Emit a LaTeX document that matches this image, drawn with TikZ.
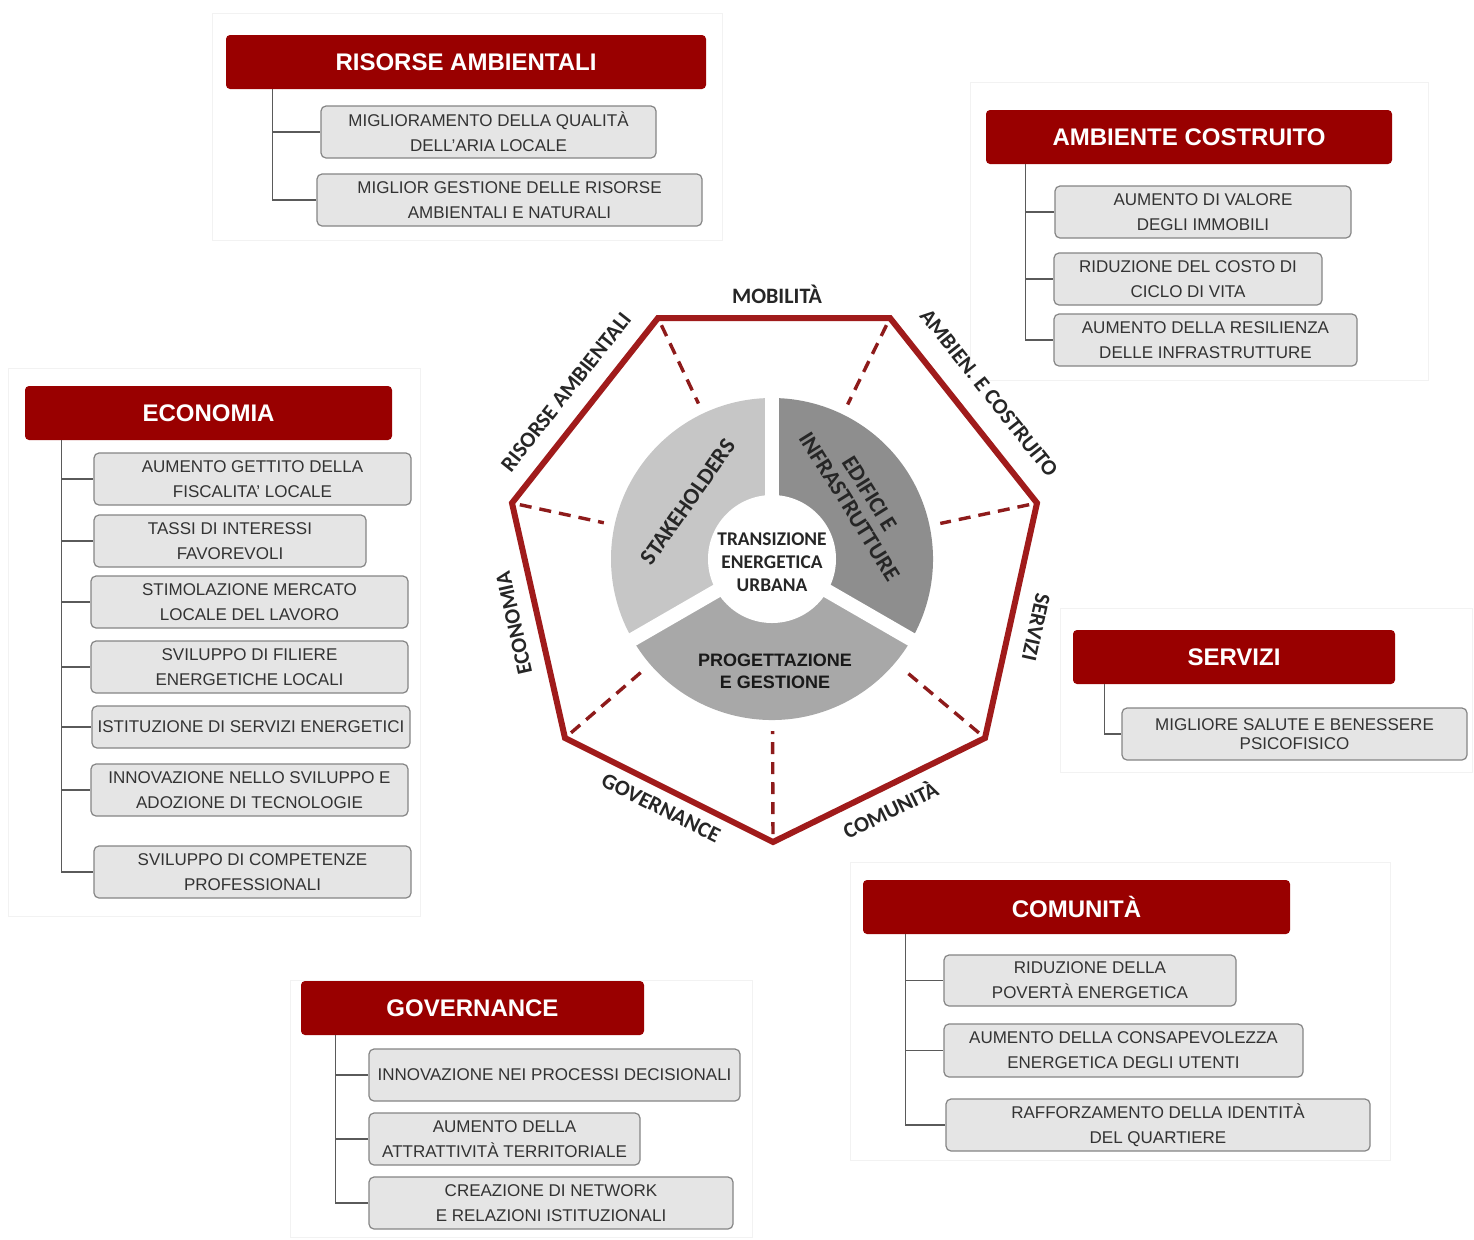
\documentclass[tikz,border=0pt]{standalone}
\usepackage{fontspec}
\setmainfont{Liberation Sans}
\newfontfamily\calib{Carlito}
\usetikzlibrary{calc}
\definecolor{tred}{HTML}{990000}
\definecolor{hred}{HTML}{A01B1B}
\definecolor{dred}{HTML}{8E1B1B}
\definecolor{boxfill}{HTML}{E5E5E5}
\definecolor{boxline}{HTML}{858585}
\definecolor{itxt}{HTML}{333333}
\definecolor{connc}{HTML}{5A5A5A}
\definecolor{stkc}{HTML}{C6C6C6}
\definecolor{edic}{HTML}{8E8E8E}
\definecolor{proc}{HTML}{A8A8A8}
\tikzset{
 title/.style={fill=tred, rounded corners=2pt, text=white, font=\bfseries\fontsize{12}{14}\selectfont, inner sep=0pt},
 item/.style={fill=boxfill, draw=boxline, line width=0.6pt, rounded corners=2.5pt, text=itxt, font=\fontsize{8.5}{12.5}\selectfont, align=center, inner sep=0pt},
 conn/.style={draw=connc, line width=0.7pt},
 panel/.style={fill=white, draw=black!5, line width=0.5pt},
 hept/.style={draw=hred, line width=3pt, line join=miter},
 spoke/.style={draw=dred, line width=1.7pt, dash pattern=on 6pt off 4pt},
 elabel/.style={font=\calib\bfseries\fontsize{11}{13}\selectfont, text=black!85, inner sep=0pt},
 pietext/.style={font=\calib\bfseries\fontsize{11.5}{12}\selectfont, text=black!85, align=center, inner sep=0pt},
}
% #1 style, #2 name, #3 x1, #4 y1, #5 x2, #6 y2, #7 text  (pixel units, 1px = 0.5pt)
\newcommand\mkbx[7]{%
  \pgfmathsetmacro\bxw{(#5-#3)/2}%
  \pgfmathsetmacro\bxh{(#6-#4)/2}%
  \pgfmathsetmacro\bxcx{(#3+#5)/2}%
  \pgfmathsetmacro\bxcy{(#4+#6)/2}%
  \node[#1, minimum width=\bxw pt, minimum height=\bxh pt] (#2) at (\bxcx,\bxcy) {#7};}
\begin{document}
\begin{tikzpicture}[x=0.5pt,y=-0.5pt]
\useasboundingbox (0,0) rectangle (1474,1239);
\fill[white] (0,0) rectangle (1474,1239);

% panels
\path[panel] (212,13) rectangle (722,240);
\path[panel] (970,82) rectangle (1428,380);
\path[panel] (8,368) rectangle (420,916);
\path[panel] (1060,608) rectangle (1472,772);
\path[panel] (850,862) rectangle (1390,1160);
\path[panel] (290,980) rectangle (752,1237);

% ---------- RISORSE AMBIENTALI
\mkbx{title}{raT}{226}{35}{706}{89}{RISORSE AMBIENTALI}
\mkbx{item}{ra1}{321}{106}{656}{158}{MIGLIORAMENTO DELLA QUALITÀ\\DELL'ARIA LOCALE}
\mkbx{item}{ra2}{317}{174}{702}{226}{MIGLIOR GESTIONE DELLE RISORSE\\AMBIENTALI E NATURALI}
\foreach \n in {ra1,ra2}{\draw[conn] ([xshift=23.5pt]raT.south west) |- (\n.west);}

% ---------- AMBIENTE COSTRUITO
\mkbx{title}{acT}{986}{110}{1392}{164}{AMBIENTE COSTRUITO}
\mkbx{item}{ac1}{1055}{186}{1351}{238}{AUMENTO DI VALORE\\DEGLI IMMOBILI}
\mkbx{item}{ac2}{1054}{253}{1322}{305}{RIDUZIONE DEL COSTO DI\\CICLO DI VITA}
\mkbx{item}{ac3}{1054}{314}{1357}{366}{AUMENTO DELLA RESILIENZA\\DELLE INFRASTRUTTURE}
\foreach \n in {ac1,ac2,ac3}{\draw[conn] ([xshift=20pt]acT.south west) |- (\n.west);}

% ---------- ECONOMIA
\mkbx{title}{ecT}{25}{386}{392}{440}{ECONOMIA}
\mkbx{item}{ec1}{94}{453}{411}{505}{AUMENTO GETTITO DELLA\\FISCALITA' LOCALE}
\mkbx{item}{ec2}{94}{515}{366}{567}{TASSI DI INTERESSI\\FAVOREVOLI}
\mkbx{item}{ec3}{91}{576}{408}{628}{STIMOLAZIONE MERCATO\\LOCALE DEL LAVORO}
\mkbx{item}{ec4}{91}{641}{408}{693}{SVILUPPO DI FILIERE\\ENERGETICHE LOCALI}
\mkbx{item}{ec5}{92}{706}{410}{748}{ISTITUZIONE DI SERVIZI ENERGETICI}
\mkbx{item}{ec6}{91}{764}{408}{816}{INNOVAZIONE NELLO SVILUPPO E\\ADOZIONE DI TECNOLOGIE}
\mkbx{item}{ec7}{94}{846}{411}{898}{SVILUPPO DI COMPETENZE\\PROFESSIONALI}
\foreach \n in {ec1,ec2,ec3,ec4,ec5,ec6,ec7}{\draw[conn] ([xshift=18.5pt]ecT.south west) |- (\n.west);}

% ---------- SERVIZI
\mkbx{title}{seT}{1073}{630}{1395}{684}{SERVIZI}
\mkbx{item,font=\fontsize{8.5}{9.5}\selectfont}{se1}{1122}{708}{1467}{760}{MIGLIORE SALUTE E BENESSERE\\PSICOFISICO}
\draw[conn] ([xshift=16pt]seT.south west) |- (se1.west);

% ---------- COMUNITA
\mkbx{title}{coT}{863}{880}{1290}{934}{COMUNITÀ}
\mkbx{item}{co1}{944}{955}{1236}{1006}{RIDUZIONE DELLA\\POVERTÀ ENERGETICA}
\mkbx{item}{co2}{944}{1024}{1303}{1077}{AUMENTO DELLA CONSAPEVOLEZZA\\ENERGETICA DEGLI UTENTI}
\mkbx{item}{co3}{946}{1099}{1370}{1151}{RAFFORZAMENTO DELLA IDENTITÀ\\DEL QUARTIERE}
\foreach \n in {co1,co2,co3}{\draw[conn] ([xshift=21.5pt]coT.south west) |- (\n.west);}

% ---------- GOVERNANCE
\mkbx{title}{goT}{301}{981}{644}{1035}{GOVERNANCE}
\mkbx{item}{go1}{369}{1049}{740}{1101}{INNOVAZIONE NEI PROCESSI DECISIONALI}
\mkbx{item}{go2}{369}{1113}{640}{1165}{AUMENTO DELLA\\ATTRATTIVITÀ TERRITORIALE}
\mkbx{item}{go3}{369}{1177}{733}{1229}{CREAZIONE DI NETWORK\\E RELAZIONI ISTITUZIONALI}
\foreach \n in {go1,go2,go3}{\draw[conn] ([xshift=17.5pt]goT.south west) |- (\n.west);}

% ---------- central heptagon
\coordinate (pc) at (772,559);
\coordinate (v1) at (658,318);
\coordinate (v2) at (890,318);
\coordinate (v3) at (1037,503);
\coordinate (v4) at (985,738);
\coordinate (v5) at (773,842);
\coordinate (v6) at (565,738);
\coordinate (v7) at (512,503);

\foreach \v in {v1,v2,v3,v4,v5,v6,v7}{
  \draw[spoke] ($(\v)!4pt!(pc)$) -- ($(pc)!86pt!(\v)$);
}
\draw[hept] (v1) -- (v2) -- (v3) -- (v4) -- (v5) -- (v6) -- (v7) -- cycle;

% ring
\begin{scope}[shift={(pc)}, x=1pt, y=1pt]
  \fill[stkc] (0,0) -- (90:80.5pt) arc[start angle=90, end angle=210, radius=80.5pt] -- cycle;
  \fill[proc] (0,0) -- (210:80.5pt) arc[start angle=210, end angle=330, radius=80.5pt] -- cycle;
  \fill[edic] (0,0) -- (330:80.5pt) arc[start angle=330, end angle=450, radius=80.5pt] -- cycle;
  \foreach \a in {90,210,330}{\draw[white, line width=7pt] (0,0) -- (\a:81pt);}
  \fill[white] (0,0) circle[radius=32pt];
\end{scope}

\node[pietext, font=\calib\bfseries\fontsize{9.7}{11.5}\selectfont] (tec) at (772,562) {TRANSIZIONE\\ENERGETICA\\URBANA};
\node[pietext, rotate=55] (stk) at (688,502) {STAKEHOLDERS};
\node[pietext, rotate=-58] (edi) at (860,500) {EDIFICI E\\INFRASTRUTTURE};
\node[pietext, font=\bfseries\fontsize{9}{11}\selectfont, text=black!90] (pro) at (775,671) {PROGETTAZIONE\\E GESTIONE};

% edge labels
\node[elabel] (lmob) at (777,294) {MOBILITÀ};
\node[elabel, rotate=-51.5] (lamb) at (989,393) {AMBIEN. E COSTRUITO};
\node[elabel, rotate=-102.5] (lser) at (1036,627) {SERVIZI};
\node[elabel, rotate=26.1] (lcom) at (890,809) {COMUNITÀ};
\node[elabel, rotate=-26.6] (lgov) at (661,808) {GOVERNANCE};
\node[elabel, rotate=102.7] (leco) at (514,623) {ECONOMIA};
\node[elabel, rotate=51.7] (lris) at (566,392) {RISORSE AMBIENTALI};
\end{tikzpicture}
\end{document}
